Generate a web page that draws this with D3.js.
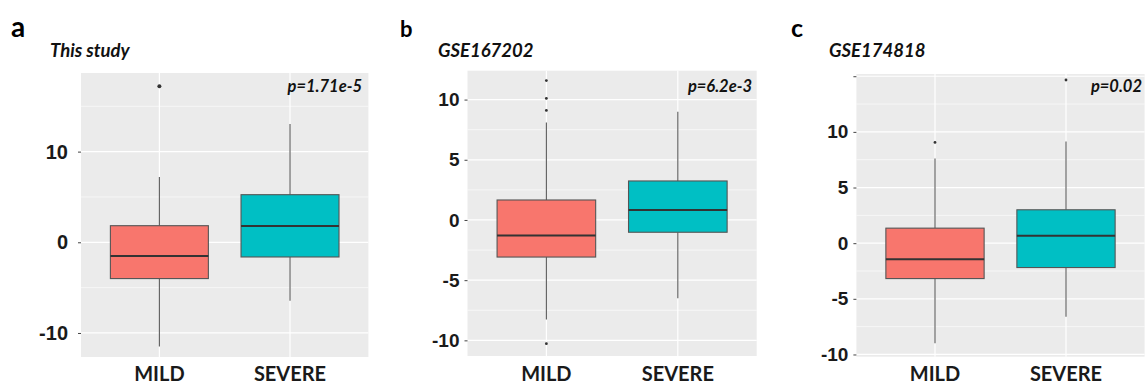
<!DOCTYPE html>
<html>
<head>
<meta charset="utf-8">
<script src="https://cdn.jsdelivr.net/npm/d3@7"></script>
<style>
  html, body { margin: 0; padding: 0; background: #fff; }
  svg { display: block; font-family: Lato, "Open Sans", sans-serif; }
</style>
</head>
<body>
<svg id="chart" width="1145" height="383"></svg>
<script>
// categories shared by the three panels
const categories = ["MILD", "SEVERE"];
const panelLetters = ["a", "b", "c"];
const panelTitles = ["This study", "GSE167202", "GSE174818"];
const pValues = ["p=1.71e-5", "p=6.2e-3", "p=0.02"];

// box stats per category: [lower whisker, Q1, median, Q3, upper whisker]
const statsA = [[-11.5, -4.0, -1.5, 1.83, 7.2], [-6.45, -1.62, 1.8, 5.25, 13.05]];
const statsB = [[-8.26, -3.08, -1.3, 1.66, 8.09], [-6.5, -1.02, 0.83, 3.24, 9.0]];
const statsC = [[-9.0, -3.18, -1.44, 1.35, 7.6], [-6.6, -2.19, 0.66, 3.0, 9.14]];

// outliers per category
const outliersA = [[17.2], []];
const outliersB = [[11.58, 10.1, 9.1, -10.28], []];
const outliersC = [[9.05], [14.66]];

// y domains and ticks
const yDomains = [[-12.65, 18.67], [-11.3, 12.4], [-10.2, 15.2]];
const yTicks = [[-10, 0, 10], [-10, -5, 0, 5, 10], [-10, -5, 0, 5, 10, 15]];
const yTickLabels = [["-10", "0", "10"], ["-10", "-5", "0", "5", "10"], ["-10", "-5", "0", "5", "10", ""]];

const allStats = [statsA, statsB, statsC];
const allOutliers = [outliersA, outliersB, outliersC];

const fills = ["#F8766D", "#00BFC4"];

// layout of each panel (pixels)
const layout = [
  { left: 81, right: 368.4, top: 73, bottom: 357, letterX: 11, letterSize: 28, titleX: 50, pX: 362, tickSize: 20, tickPad: 10, dotR: 2 },
  { left: 467.5, right: 756.7, top: 70.7, bottom: 356, letterX: 400, letterSize: 22, titleX: 438, pX: 752, tickSize: 19, tickPad: 5, dotR: 1.4 },
  { left: 856.4, right: 1144.6, top: 74, bottom: 356.7, letterX: 791, letterSize: 25, titleX: 829, pX: 1142, tickSize: 19, tickPad: 5, dotR: 1.4 }
];

const svg = d3.select("#chart");

layout.forEach((L, p) => {
  const g = svg.append("g");

  const x = d3.scalePoint().domain(categories).range([L.left, L.right]).padding(0.6);
  const y = d3.scaleLinear().domain(yDomains[p]).range([L.bottom, L.top]);
  const boxW = x.step() * 0.75;

  // panel background
  g.append("rect")
    .attr("x", L.left).attr("y", L.top)
    .attr("width", L.right - L.left).attr("height", L.bottom - L.top)
    .attr("fill", "#EBEBEB");

  // minor grid (midpoints between major ticks)
  const ticks = yTicks[p];
  const stepT = ticks[1] - ticks[0];
  const minor = d3.range(ticks[0] - stepT / 2, yDomains[p][1], stepT)
    .filter(v => v >= yDomains[p][0] && v <= yDomains[p][1]);
  g.selectAll("line.minor").data(minor).join("line")
    .attr("x1", L.left).attr("x2", L.right)
    .attr("y1", d => y(d)).attr("y2", d => y(d))
    .attr("stroke", "#fff").attr("stroke-width", 0.6);

  // major grid
  g.selectAll("line.major").data(ticks).join("line")
    .attr("x1", L.left).attr("x2", L.right)
    .attr("y1", d => y(d)).attr("y2", d => y(d))
    .attr("stroke", "#fff").attr("stroke-width", 1.2);
  g.selectAll("line.vmajor").data(categories).join("line")
    .attr("x1", d => x(d)).attr("x2", d => x(d))
    .attr("y1", L.top).attr("y2", L.bottom)
    .attr("stroke", "#fff").attr("stroke-width", 1.2);

  // y axis
  const yAxis = d3.axisLeft(y).tickValues(ticks)
    .tickFormat((d, i) => yTickLabels[p][i])
    .tickSize(3).tickPadding(L.tickPad);
  const ya = g.append("g").attr("transform", `translate(${L.left},0)`).call(yAxis);
  ya.select(".domain").remove();
  ya.selectAll(".tick line").attr("stroke", "#444").attr("stroke-width", 1);
  ya.selectAll(".tick text")
    .attr("fill", "#1a1a1a")
    .style("font-size", L.tickSize + "px")
    .style("font-weight", "bold");

  // x labels
  g.selectAll("text.xlab").data(categories).join("text")
    .attr("x", d => x(d)).attr("y", 380.5)
    .attr("text-anchor", "middle")
    .attr("fill", "#1a1a1a")
    .style("font-size", "20px").style("font-weight", "bold")
    .text(d => d);

  // boxes
  const boxes = g.selectAll("g.box").data(allStats[p]).join("g");
  boxes.append("line")
    .attr("x1", (d, i) => x(categories[i])).attr("x2", (d, i) => x(categories[i]))
    .attr("y1", d => y(d[4])).attr("y2", d => y(d[3]))
    .attr("stroke", "#5a5a5a").attr("stroke-width", 1.1);
  boxes.append("line")
    .attr("x1", (d, i) => x(categories[i])).attr("x2", (d, i) => x(categories[i]))
    .attr("y1", d => y(d[1])).attr("y2", d => y(d[0]))
    .attr("stroke", "#5a5a5a").attr("stroke-width", 1.1);
  boxes.append("rect")
    .attr("x", (d, i) => x(categories[i]) - boxW / 2)
    .attr("y", d => y(d[3]))
    .attr("width", boxW)
    .attr("height", d => y(d[1]) - y(d[3]))
    .attr("fill", (d, i) => fills[i])
    .attr("stroke", "#555").attr("stroke-width", 1.1);
  boxes.append("line")
    .attr("x1", (d, i) => x(categories[i]) - boxW / 2)
    .attr("x2", (d, i) => x(categories[i]) + boxW / 2)
    .attr("y1", d => y(d[2])).attr("y2", d => y(d[2]))
    .attr("stroke", "#333").attr("stroke-width", 2);

  // outliers
  const pts = allOutliers[p].flatMap((arr, i) => arr.map(v => ({ c: categories[i], v })));
  g.selectAll("circle.out").data(pts).join("circle")
    .attr("cx", d => x(d.c)).attr("cy", d => y(d.v))
    .attr("r", L.dotR).attr("fill", "#333");

  // panel letter, title and p value
  g.append("text").attr("x", L.letterX).attr("y", 37)
    .style("font-size", L.letterSize + "px").style("font-weight", "bold")
    .attr("fill", "#000").text(panelLetters[p]);
  g.append("text").attr("x", L.titleX).attr("y", 57)
    .style("font-size", "18.5px").style("font-weight", "bold").style("font-style", "italic")
    .attr("fill", "#111").text(panelTitles[p]);
  g.append("text").attr("x", L.pX).attr("y", 91.5)
    .attr("text-anchor", "end")
    .style("font-size", "16.5px").style("font-weight", "bold").style("font-style", "italic")
    .attr("fill", "#111").text(pValues[p]);
});
</script>
</body>
</html>
